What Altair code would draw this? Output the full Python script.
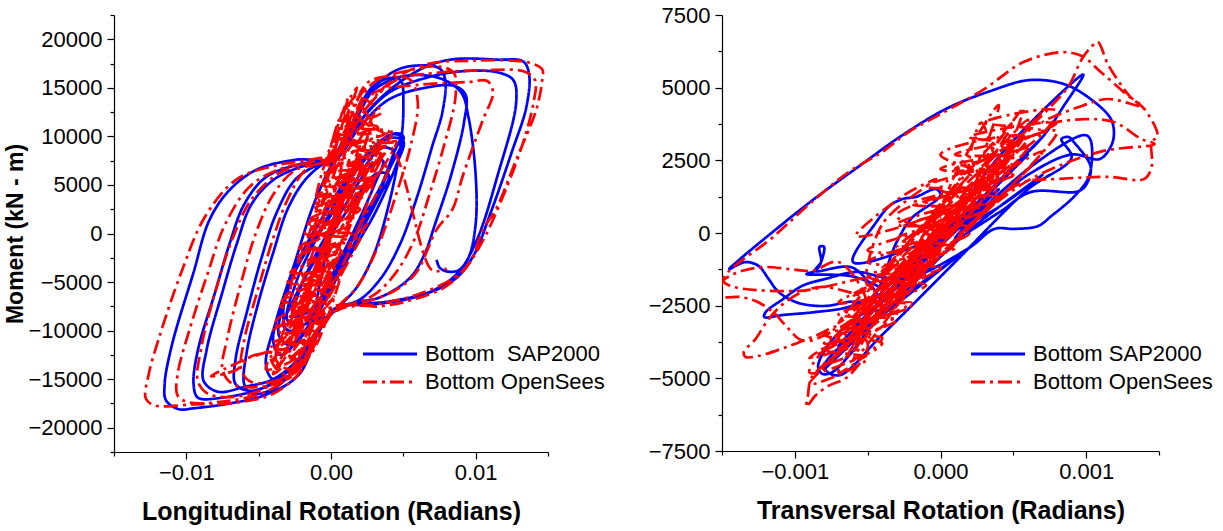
import altair as alt
import pandas as pd

# ---------------------------------------------------------------
# Bottom hinge hysteresis: rotation (rad) vs moment (kN-m)
# Each list is an ordered path of (rotation, moment) samples.
# ---------------------------------------------------------------

# Longitudinal direction, SAP2000 model
lon_sap_core = [
    (0.0000, 0), (-0.0010, -8000), (0.0010, -3000), (0.0030, 2000), (0.0045, 7000), (0.0050, 9500),
    (0.0040, 9800), (0.0015, 6000), (-0.0005, 1000), (-0.0025, -4000), (-0.0033, -8000), (-0.0030, -10000),
    (-0.0015, -9000), (0.0005, -4000), (0.0025, 1500), (0.0040, 6500), (0.0050, 10000), (0.0044, 10300),
    (0.0025, 8000), (0.0000, 3000), (-0.0020, -2000), (-0.0030, -6000), (-0.0036, -10500), (-0.0028, -11500),
    (-0.0010, -8500), (0.0010, -2000), (0.0032, 4000), (0.0044, 8500), (0.0048, 10000), (0.0042, 10200),
    (0.0030, 9000), (0.0008, 5000), (-0.0012, 0), (-0.0028, -5000), (-0.0040, -11000), (-0.0035, -12500),
    (-0.0018, -10000), (-0.0005, -6000), (0.0015, 0), (0.0030, 5000), (0.0036, 7500), (0.0028, 7000),
    (0.0010, 3000), (-0.0010, -2000), (-0.0022, -6000), (-0.0026, -8500), (-0.0015, -8000), (0.0000, -5000),
    (0.0020, 1000), (0.0038, 6000), (0.0043, 8500), (0.0035, 8800), (0.0015, 5000), (-0.0008, 0),
    (-0.0024, -5000), (-0.0030, -9000), (-0.0020, -9500), (-0.0005, -6500), (0.0018, -500), (0.0034, 4000),
    (0.0040, 6000), (0.0032, 6200), (0.0012, 2500), (-0.0012, -3000), (-0.0028, -7500), (-0.0033, -9500),
    (-0.0022, -10200), (-0.0005, -8500),
]
lon_sap_loops = [
    (-0.0008, -10000), (-0.0025, -14000), (-0.0040, -16000), (-0.0055, -16500), (-0.0060, -15500),
    (-0.0058, -12000), (-0.0050, -7000), (-0.0040, -2000), (-0.0030, 2500), (-0.0018, 5500), (-0.0005, 7200),
    (0.0005, 7800), (0.0015, 11500), (0.0028, 15000), (0.0040, 16000), (0.0048, 15800), (0.0050, 13000),
    (0.0048, 9000), (0.0040, 3000), (0.0030, -2000), (0.0018, -5500), (0.0005, -7600),
    (-0.0005, -9000), (-0.0018, -12000), (-0.0035, -14800), (-0.0055, -16200), (-0.0066, -15500),
    (-0.0066, -13000), (-0.0058, -8000), (-0.0048, -2500), (-0.0038, 2000), (-0.0025, 5500), (-0.0010, 7000),
    (0.0003, 7600), (0.0015, 11000), (0.0030, 15000), (0.0045, 16800), (0.0060, 17300), (0.0075, 17000),
    (0.0079, 15800), (0.0077, 12500), (0.0070, 9000), (0.0060, 4000), (0.0048, -1000), (0.0035, -4500),
    (0.0020, -6800), (0.0003, -7700),
    (-0.0005, -9000), (-0.0020, -12500), (-0.0040, -15000), (-0.0060, -15800), (-0.0078, -16300),
    (-0.0088, -15200), (-0.0086, -12000), (-0.0075, -6000), (-0.0065, -1000), (-0.0055, 3000), (-0.0040, 5500),
    (-0.0020, 6900), (0.0003, 7600), (0.0020, 11000), (0.0040, 13800), (0.0065, 15000), (0.0085, 15200),
    (0.0093, 14300), (0.0092, 11500), (0.0083, 6000), (0.0072, 1000), (0.0065, -2000), (0.0055, -4500),
    (0.0035, -6500), (0.0010, -7400),
    (-0.0005, -9000), (-0.0020, -13500), (-0.0045, -15800), (-0.0075, -16900), (-0.0092, -16900),
    (-0.0095, -15500), (-0.0092, -12000), (-0.0080, -6000), (-0.0070, -1000), (-0.0060, 3000), (-0.0045, 5800),
    (-0.0020, 7200), (0.0003, 7700), (0.0020, 11500), (0.0040, 14500), (0.0065, 16000), (0.0090, 16700),
    (0.0115, 16600), (0.0126, 15800), (0.0128, 13500), (0.0115, 5900), (0.0101, -600), (0.0088, -4000),
    (0.0070, -5900), (0.0040, -7000), (0.0010, -7500),
    (-0.0005, -9000), (-0.0022, -14500), (-0.0045, -16600), (-0.0070, -17500), (-0.0095, -18000),
    (-0.0105, -18100), (-0.0114, -17200), (-0.0115, -15500), (-0.0110, -11500), (-0.0095, -4000),
    (-0.0084, 1400), (-0.0070, 4500), (-0.0051, 6600), (-0.0024, 7600), (0.0003, 7800), (0.0025, 12500),
    (0.0045, 15300), (0.0066, 17200), (0.0085, 17950), (0.0115, 17900), (0.0133, 17700), (0.0137, 16300),
    (0.0135, 13000), (0.0125, 8400), (0.0111, 2400), (0.0098, -2400), (0.0084, -4900), (0.0057, -6600),
    (0.0030, -7300), (0.0003, -7700),
    (-0.0010, -10500), (-0.0028, -14000), (-0.0040, -15000), (-0.0045, -13500), (-0.0038, -9000),
    (-0.0025, -3000), (-0.0012, 3000), (0.0000, 7000), (0.0015, 11500), (0.0030, 14800), (0.0050, 16200),
    (0.0075, 16000), (0.0090, 14500), (0.0095, 12000), (0.0100, 6000), (0.0100, 1000), (0.0095, -2500),
    (0.0088, -3800), (0.0080, -3900), (0.0075, -3500), (0.0073, -2700),
]

# Longitudinal direction, OpenSees model
lon_ops_core = [
    (0.0000, 0), (0.0015, 6000), (-0.0010, -4000), (0.0020, 9000), (-0.0005, -1000), (0.0028, 11000),
    (0.0005, 2500), (0.0012, 13000), (-0.0008, 1000), (0.0018, 8000), (-0.0020, -7000), (0.0008, 4000),
    (-0.0028, -11000), (-0.0002, -3000), (-0.0035, -13500), (-0.0012, -8000), (-0.0022, -12500),
    (0.0004, -2500), (-0.0015, -10500), (0.0022, 4500), (-0.0005, -5000), (0.0035, 9000), (0.0010, 2000),
    (0.0042, 10500), (0.0015, 6500), (0.0008, 10000), (0.0025, 12000), (-0.0002, 6000), (0.0012, 14000),
    (-0.0010, 3000), (0.0020, 7000), (-0.0025, -8500), (0.0000, -1500), (-0.0032, -12500), (-0.0008, -6500),
    (-0.0040, -14500), (-0.0018, -11500), (-0.0030, -13000), (0.0002, -6500), (-0.0012, -9000),
    (0.0015, -1000), (0.0030, 6000), (0.0005, 0), (0.0038, 8500), (0.0020, 3500), (0.0045, 9500),
    (0.0012, 7000), (0.0030, 12500), (0.0002, 8000), (0.0018, 15000), (0.0005, 11500), (-0.0005, 5000),
    (0.0010, 9500), (-0.0018, -2000), (0.0005, 5500), (-0.0030, -9500), (-0.0010, -3500), (-0.0038, -13000),
    (-0.0025, -14000), (-0.0008, -9500), (-0.0030, -15000), (-0.0012, -12000), (0.0008, -3500),
    (-0.0005, -7500), (0.0025, 1000), (0.0012, -1500), (0.0040, 7000), (0.0022, 5000), (0.0032, 11000),
    (0.0015, 11000), (0.0022, 13500), (0.0000, 7000), (-0.0015, 0), (-0.0028, -6000), (-0.0020, -9000),
    (0.0000, -4000),
]
lon_ops_band = [
    (-0.0045, -14000), (-0.0022, -12500), (-0.0042, -11500), (-0.0012, -9500), (-0.0038, -9000),
    (-0.0008, -6500), (-0.0032, -6500), (-0.0002, -4000), (-0.0026, -4000), (0.0006, -1500), (-0.0020, -1500),
    (0.0012, 1000), (-0.0014, 1500), (0.0018, 3500), (-0.0008, 4000), (0.0025, 6500), (-0.0002, 6500),
    (0.0032, 8500), (0.0004, 8500), (0.0040, 10500), (0.0010, 11000), (0.0035, 12500), (0.0018, 14000),
    (0.0028, 11000), (0.0002, 9500), (0.0036, 9500), (0.0000, 7500), (0.0030, 7000), (-0.0006, 5000),
    (0.0022, 4500), (-0.0012, 2500), (0.0016, 2000), (-0.0018, 0), (0.0010, -500), (-0.0024, -2500),
    (0.0004, -3000), (-0.0030, -5000), (-0.0004, -5500), (-0.0035, -7500), (-0.0010, -8000), (-0.0040, -10000),
    (-0.0016, -10500), (-0.0040, -13000), (-0.0026, -14000),
    (-0.0015, -11500), (-0.0034, -11000), (-0.0005, -8000), (-0.0028, -8000), (0.0000, -5000),
    (-0.0022, -5500), (0.0008, -2000), (-0.0016, -3000), (0.0014, 0), (-0.0010, 0), (0.0020, 2500),
    (-0.0004, 3000), (0.0028, 5500), (0.0002, 5500), (0.0036, 8000), (0.0008, 9500), (0.0044, 9500),
    (0.0015, 12500), (0.0024, 15000),
    (0.0012, 13000), (0.0030, 10500), (0.0005, 10000), (0.0026, 8000), (-0.0004, 6000), (0.0020, 5500),
    (-0.0010, 3500), (0.0012, 3000), (-0.0016, 1000), (0.0006, 1000), (-0.0022, -1500), (0.0000, -2000),
    (-0.0028, -4000), (-0.0006, -4500), (-0.0034, -7000), (-0.0012, -7000), (-0.0038, -9500),
    (-0.0020, -9000), (-0.0042, -12500), (-0.0032, -14500), (-0.0008, -9000),
]
lon_ops_loops = [
    (-0.0008, -10000), (-0.0020, -13500), (-0.0035, -15000), (-0.0055, -15300), (-0.0062, -14000),
    (-0.0060, -11000), (-0.0050, -5500), (-0.0040, -500), (-0.0030, 3500), (-0.0018, 6500), (-0.0003, 7500),
    (0.0005, 8500), (0.0015, 12500), (0.0025, 15500), (0.0040, 16200), (0.0055, 15800), (0.0060, 13500),
    (0.0055, 9000), (0.0045, 4000), (0.0032, -1500), (0.0018, -5500), (0.0003, -7800),
    (-0.0005, -9500), (-0.0015, -12500), (-0.0030, -15000), (-0.0050, -15800), (-0.0068, -15500),
    (-0.0075, -14000), (-0.0072, -11000), (-0.0062, -5000), (-0.0052, 0), (-0.0040, 4000), (-0.0025, 6500),
    (-0.0005, 7500), (0.0015, 12000), (0.0029, 15500), (0.0057, 16900), (0.0075, 17200), (0.0085, 16500),
    (0.0086, 14000), (0.0078, 9000), (0.0068, 4000), (0.0058, -500), (0.0045, -4000), (0.0030, -6300),
    (0.0010, -7500),
    (-0.0005, -9000), (-0.0020, -13000), (-0.0040, -15500), (-0.0065, -16800), (-0.0085, -16500),
    (-0.0092, -15200), (-0.0090, -12000), (-0.0080, -6000), (-0.0068, -500), (-0.0055, 3500), (-0.0035, 6300),
    (-0.0010, 7500), (0.0005, 8000), (0.0015, 11500), (0.0030, 14500), (0.0060, 15300), (0.0095, 15600),
    (0.0108, 15700), (0.0112, 14500), (0.0105, 11700), (0.0091, 5900), (0.0084, 2500), (0.0073, 400),
    (0.0059, -4000), (0.0045, -5800), (0.0025, -7000), (0.0005, -7600),
    (-0.0005, -9000), (-0.0020, -13500), (-0.0045, -16300), (-0.0075, -17300), (-0.0098, -17400),
    (-0.0106, -16700), (-0.0106, -14500), (-0.0098, -10000), (-0.0085, -4000), (-0.0073, 1000),
    (-0.0055, 5000), (-0.0030, 6900), (0.0000, 7600), (0.0025, 13000), (0.0045, 15800), (0.0070, 16500),
    (0.0105, 16800), (0.0133, 16700), (0.0141, 15800), (0.0140, 13500), (0.0132, 9000), (0.0118, 3500),
    (0.0104, -1000), (0.0090, -4000), (0.0065, -6000), (0.0035, -7200), (0.0008, -7700),
    (-0.0005, -8800), (-0.0020, -14000), (-0.0040, -16500), (-0.0065, -17400), (-0.0095, -17600),
    (-0.0122, -17700), (-0.0128, -17000), (-0.0126, -14500), (-0.0119, -10800), (-0.0103, -3800),
    (-0.0087, 1750), (-0.0065, 5600), (-0.0038, 7000), (-0.0011, 7700), (0.0005, 8200), (0.0020, 12000),
    (0.0040, 15500), (0.0065, 17400), (0.0098, 17800), (0.0125, 17800), (0.0137, 17600), (0.0146, 16900),
    (0.0146, 15800), (0.0142, 12800), (0.0128, 7600), (0.0114, 2500), (0.0105, 400), (0.0096, -3000),
    (0.0080, -5400), (0.0057, -6800), (0.0034, -7500), (0.0000, -7600),
    (-0.0015, -11000), (-0.0035, -12000), (-0.0056, -12700), (-0.0065, -14000), (-0.0083, -14700),
    (-0.0060, -13000), (-0.0030, -11000), (-0.0010, -4000), (0.0020, 6000), (0.0040, 9000), (0.0070, -3800),
    (0.0080, -3600),
]

# Transversal direction, SAP2000 model
tra_sap_path = [
    (0.0000, 0), (0.0002, 800), (-0.0002, -900), (0.0004, 1500), (-0.0003, -1600), (0.0005, 2200),
    (-0.0004, -2200), (0.0006, 2700), (-0.0005, -2800), (0.0007, 3300), (-0.0006, -3300), (0.0003, 1000),
    (-0.0007, -3900), (0.0002, -500), (-0.0008, -4600), (-0.0007, -4900), (-0.0004, -3500), (0.0001, -1000),
    (0.0006, 1500), (0.0009, 2600), (0.00083, 3230), (0.00088, 3300), (0.00092, 3100), (0.00103, 2300),
    (0.00101, 1750), (0.00095, 1440), (0.00062, 1410), (0.0004, 700), (0.0001, -200), (0.0006, 2200),
    (0.00099, 3370), (0.00103, 3200), (0.00102, 1960), (0.00092, 1270), (0.00076, 580), (0.00067, 240),
    (0.00051, 140), (0.00037, 140), (0.0002, -500), (-0.0002, -1500), (0.0001, 500), (0.0003, 2000),
    (0.00058, 3600), (0.00098, 5450), (0.00085, 4400), (0.0007, 3300), (0.0005, 2300), (0.0002, 700),
    (-0.0003, -1500), (-0.00058, -1340), (-0.00079, -1580), (-0.00095, -1820), (-0.00108, -2270),
    (-0.0012, -2720), (-0.00121, -2890), (-0.00108, -2820), (-0.00086, -2720), (-0.00063, -2540),
    (-0.0004, -2000), (-0.0006, -1500), (-0.00092, -1410), (-0.00086, -1300), (-0.00082, -1000),
    (-0.00083, -480), (-0.0008, -470), (-0.00082, -1000), (-0.00086, -1300), (-0.0006, -1200),
    (-0.0004, -2600), (-0.00051, -2720), (-0.00067, -3300), (-0.00079, -3990), (-0.00084, -4610),
    (-0.00081, -4850), (-0.00074, -4780), (-0.00063, -4230), (-0.00049, -3300), (-0.00035, -2510),
    (-0.0008, -4700), (-0.0003, -2300), (0.0002, 100), (0.0007, 2000), (0.0003, 600),
    (-0.0006, -1000), (-0.00044, 380), (-0.00035, 930), (-0.00026, 1170), (-0.00017, 1240), (-0.00003, 1510),
    (0.0000, 1300), (-0.0002, 500), (-0.0003, -300), (-0.00048, -2300), (-0.00063, -2370), (-0.00079, -2510),
    (-0.00095, -2440), (-0.00104, -2270), (-0.00112, -1990), (-0.00118, -1580), (-0.00125, -1130),
    (-0.00134, -1000), (-0.00145, -1240), (-0.00140, -1000), (-0.00119, -120), (-0.00087, 1160),
    (-0.00055, 2330), (-0.00026, 3370), (0.00005, 4300), (0.00034, 4880), (0.00061, 5260), (0.00085, 5120),
    (0.00103, 4610), (0.00117, 3920), (0.00119, 3340), (0.00116, 2890), (0.00109, 2540), (0.0009, 2700),
    (0.0006, 2000), (0.0003, 800), (0.0000, -300),
]

# Transversal direction, OpenSees model
tra_ops_core = [
    (0.0000, 0), (-0.0003, -500), (0.0002, 1200), (-0.0004, -1800), (0.0003, 1800), (-0.0005, -2600),
    (0.0004, 2500), (-0.0002, -200), (0.0005, 3200), (-0.0006, -3200), (0.0001, 300), (-0.0007, -4000),
    (0.0000, -600), (-0.0008, -4600), (-0.0002, -1500), (0.0006, 3600), (-0.0001, -700), (0.0007, 4200),
    (0.0002, 800), (-0.0004, -2800), (0.0003, 2200), (-0.0006, -3700), (0.0004, 1300), (-0.0003, -2200),
    (0.0006, 2900), (-0.0001, -900), (0.0005, 3800), (-0.0005, -2000), (0.0002, 2000), (-0.0007, -3100),
    (0.0001, 500), (-0.0008, -4200), (-0.0003, -2500), (0.0003, 1500), (0.0007, 2800), (0.0001, -300),
    (0.0008, 3500), (0.0002, 2200), (-0.0002, -1000), (0.0004, 2400), (-0.0006, -4400), (0.0000, 800),
    (0.0001, 2000), (0.0004, 4400), (0.0003, 2600), (0.00057, 4300), (0.0004, 2500), (0.00028, 3800),
    (0.0002, 2000), (0.0006, 3900), (0.0003, 1500), (-0.00058, -100), (-0.00026, 1270), (-0.00008, 1750),
    (-0.00003, 1860), (-0.0004, 300), (-0.0005, -1800), (0.0000, 500), (-0.0007, -3500), (0.0005, 2700),
]
tra_ops_band = [
    (-0.0009, -4800), (-0.0004, -3800), (-0.0008, -3500), (-0.0002, -2500), (-0.0006, -2200),
    (0.0000, -1200), (-0.0005, -1000), (0.0002, 200), (-0.0003, 300), (0.0004, 1500), (-0.0001, 1600),
    (0.0005, 2600), (0.0001, 2700), (0.0007, 3500), (0.0003, 3800), (0.0008, 4200),
    (0.0006, 3000), (0.0001, 2200), (0.0005, 2000), (-0.0001, 1000), (0.0003, 800), (-0.0003, -200),
    (0.0001, -500), (-0.0005, -1500), (-0.0001, -1800), (-0.0007, -2800), (-0.0003, -3000), (-0.0008, -4000),
    (-0.0005, -4300), (-0.0009, -5200),
    (-0.0006, -3600), (-0.0009, -4300), (-0.0003, -2200), (-0.0007, -2400), (-0.0001, -800), (-0.0005, -600),
    (0.0003, 800), (-0.0002, 1000), (0.0005, 2000), (0.0000, 2200), (0.0006, 3000), (0.0002, 3300),
    (0.0008, 3800),
    (0.0004, 2800), (0.0000, 1500), (0.0004, 1200), (-0.0002, 300), (0.0002, 0), (-0.0004, -1200),
    (0.0000, -1200), (-0.0006, -2600), (-0.0002, -2400), (-0.0008, -3800), (-0.0004, -3600), (-0.0007, -4800),
    (-0.0005, -2900), (-0.0007, -3300), (-0.0002, -1700), (-0.0004, -1900), (0.0001, -300), (-0.0003, 600),
    (0.0003, 1900), (0.0000, 2700), (0.0006, 3300),
    (0.0002, 1300), (0.0005, 2400), (-0.0001, 200), (0.0002, 900), (-0.0004, -1600), (-0.0001, -1300),
    (-0.0006, -3000), (-0.0003, -2800), (-0.0008, -4500), (-0.0006, -4100),
]
tra_ops_loops = [
    (-0.0005, -2500), (-0.0007, -1000), (-0.00088, -1300), (-0.00104, -1240), (-0.0012, -1170),
    (-0.00136, -1300), (-0.00148, -1580), (-0.0015, -1700), (-0.0015, -2170), (-0.00138, -2200),
    (-0.00127, -2340), (-0.00115, -2720), (-0.00106, -3200), (-0.00097, -3650), (-0.0009, -3710),
    (-0.00074, -3400), (-0.00058, -3200), (-0.0004, -2600), (-0.00079, -1860), (-0.00095, -2030),
    (-0.00108, -2440), (-0.00118, -2960), (-0.00127, -3650), (-0.00135, -4090), (-0.00134, -4260),
    (-0.00125, -4230), (-0.00104, -3890), (-0.00086, -3540), (-0.00068, -3200), (-0.0005, -3800),
    (-0.00063, -4920), (-0.00077, -5260), (-0.00086, -5600), (-0.00092, -5980), (-0.00091, -5600),
    (-0.00089, -5020), (-0.00081, -4570), (-0.0006, -3700), (-0.0003, -1500), (-0.0010, -2000),
    (-0.00149, -1650), (-0.00114, -100), (-0.00086, 1170), (-0.00063, 2100), (-0.0004, 2790),
    (-0.00022, 3470), (0.00004, 4200), (0.0003, 4950), (0.00057, 5880), (0.00083, 6220), (0.00097, 6090),
    (0.0011, 5540), (0.00129, 4710), (0.0014, 4260), (0.00149, 3340), (0.00145, 3130), (0.00145, 2300),
    (0.0014, 1860), (0.00115, 1930), (0.00081, 1860), (0.00057, 1750), (0.0003, 1000), (0.0005, 3000),
    (0.00074, 4260), (0.00088, 5060), (0.00097, 5980), (0.00104, 6430), (0.00108, 6570), (0.00115, 5800),
    (0.0013, 4700), (0.00138, 4370), (0.00115, 4610), (0.00097, 4370), (0.0007, 3800), (0.00099, 3920),
    (0.00119, 3820), (0.00138, 3230), (0.00147, 3060), (0.0011, 2800), (0.0006, 1800), (0.0002, 300),
]

SAP_LON = "Bottom\u00a0 SAP2000"
SAP_TRA = "Bottom SAP2000"
OPS = "Bottom OpenSees"

BLUE = "#0000ff"
RED = "#ff0000"
SOLID = [1, 0]
DASH_DOT = [14, 5, 3, 5]
FONT = "Liberation Sans"

# Legend key: a flat stroke twice as long as the nominal symbol box
KEY_SHAPE = "M-2,0H2"


def frame(points, label):
    return pd.DataFrame({
        "rot": [p[0] for p in points],
        "mom": [p[1] for p in points],
        "i": list(range(len(points))),
        "series": label,
    })


def legend():
    return alt.Legend(
        title=None, orient="none", legendX=261, legendY=324,
        symbolType=KEY_SHAPE, symbolSize=729, symbolStrokeWidth=3,
        labelFont=FONT, labelFontSize=22, labelColor="black", labelOffset=20,
        labelLimit=400, rowPadding=2,
    )


def panel(blue_df, red_df, domain, x_dom, x_vals, x_fmt, x_major, y_dom, y_vals, y_major,
          x_title, y_title, w, h):
    x_axis = alt.Axis(
        values=x_vals, format=x_fmt, grid=False,
        labelExpr=f"{x_major} ? datum.label : ''",
        tickSize={"condition": {"test": x_major, "value": 7}, "value": 4},
        labelPadding=3, titlePadding=16,
    )
    y_axis = alt.Axis(
        values=y_vals, format="d", grid=False,
        labelExpr=f"{y_major} ? datum.label : ''",
        tickSize={"condition": {"test": y_major, "value": 7}, "value": 4},
        labelPadding=5, titlePadding=0, titleFontSize=23,
    )
    color = alt.Color("series:N", scale=alt.Scale(domain=domain, range=[BLUE, RED]), legend=legend())
    dash = alt.StrokeDash("series:N", scale=alt.Scale(domain=domain, range=[SOLID, DASH_DOT]), legend=legend())
    x = alt.X("rot:Q", scale=alt.Scale(domain=x_dom, nice=False, zero=False), axis=x_axis, title=x_title)
    if y_title:
        y = alt.Y("mom:Q", scale=alt.Scale(domain=y_dom, nice=False), axis=y_axis, title=y_title)
    else:
        y = alt.Y("mom:Q", scale=alt.Scale(domain=y_dom, nice=False), axis=y_axis, title=None)

    def layer(df):
        return alt.Chart(df).mark_line(strokeWidth=2.7, interpolate="catmull-rom", clip=True).encode(
            x=x, y=y, order=alt.Order("i:Q"), color=color, strokeDash=dash,
        )

    return alt.layer(layer(blue_df), layer(red_df)).properties(width=w, height=h)


lon_blue = frame(lon_sap_core + lon_sap_loops, SAP_LON)
lon_red = frame(lon_ops_core + lon_ops_band + lon_ops_loops, OPS)
tra_blue = frame(tra_sap_path, SAP_TRA)
tra_red = frame(tra_ops_core + tra_ops_band + tra_ops_loops, OPS)

left = panel(
    lon_blue, lon_red, [SAP_LON, OPS],
    [-0.015, 0.015], [-0.015, -0.01, -0.005, 0, 0.005, 0.01, 0.015], ".2f",
    "round(datum.value * 1000) % 10 == 0",
    [-22500, 22500], list(range(-22500, 22501, 2500)), "datum.value % 5000 == 0",
    "Longitudinal Rotation (Radians)", "Moment (kN - m)", 434, 437,
)
right = panel(
    tra_blue, tra_red, [SAP_TRA, OPS],
    [-0.0015, 0.0015], [-0.0015, -0.001, -0.0005, 0, 0.0005, 0.001, 0.0015], ".3f",
    "round(datum.value * 10000) % 10 == 0",
    [-7500, 7500], list(range(-7500, 7501, 1250)), "datum.value % 2500 == 0",
    "Transversal Rotation (Radians)", None, 437, 436,
)

chart = alt.hconcat(left, right, spacing=43).resolve_scale(
    color="independent", strokeDash="independent"
).configure(
    padding={"left": 4, "top": 4, "right": 5, "bottom": 5},
    background="white",
).configure_view(
    stroke=None,
).configure_axis(
    domainColor="black", domainWidth=1.2, tickColor="black", tickWidth=1.2,
    labelFont=FONT, labelFontSize=22, labelColor="black",
    titleFont=FONT, titleFontSize=25, titleFontWeight="bold", titleColor="black",
)

chart.save("out.html", embed_options={"renderer": "svg", "actions": False})
